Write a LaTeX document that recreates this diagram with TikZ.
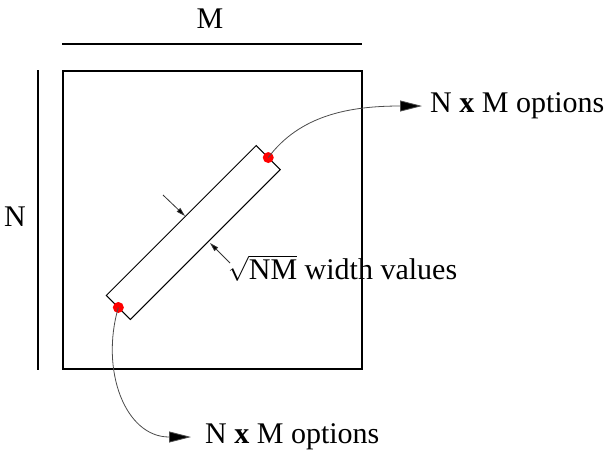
\documentclass[tikz,border=0pt]{standalone}
\usepackage{fontspec}
\newfontfamily\serfont{Liberation Serif}
\usetikzlibrary{arrows.meta}
\begin{document}
\begin{tikzpicture}[x=1pt,y=-1pt,
  lbl/.style={font=\serfont\fontsize{30}{34}\selectfont, inner sep=0pt},
  curvearrow/.style={draw=black!70, line width=0.8pt, -{Triangle[length=22pt,width=11pt,fill=black]}},
  smallarrow/.style={draw=black!80, line width=0.8pt, -{Triangle[length=9pt,width=5pt,fill=black]}},
  frame/.style={draw=black, line width=1.2pt},
  dot/.style={circle, fill=red, inner sep=0pt, minimum size=11pt}]
\useasboundingbox (0,0) rectangle (612,459);
% outer square
\node[frame, minimum width=299pt, minimum height=298pt, inner sep=0pt, outer sep=0pt] (sq) at (212.5,220) {};
% dimension lines
\coordinate (ma) at (62,44); \coordinate (mb) at (362,44);
\draw[line width=1.2pt] (ma) -- (mb);
\node[lbl] (M) at (210,19) {M};
\coordinate (na) at (38,70); \coordinate (nb) at (38,370);
\draw[line width=1.2pt] (na) -- (nb);
\node[lbl] (N) at (15,217) {N};
% diagonal strip
\node[draw=black, line width=1pt, rotate=45, minimum width=212pt, minimum height=34pt, inner sep=0pt, outer sep=0pt] (strip) at (193.3,232.5) {};
\node[dot] (d1) at (strip.east) {};
\node[dot] (d2) at (strip.west) {};
% labels
\node[lbl, anchor=west] (t1) at (430,106) {N \textbf{x} M options};
\node[lbl, anchor=west] (t2) at (205,437) {N \textbf{x} M options};
\node[lbl, anchor=west] (t3) at (228,268) {$\sqrt{\mbox{NM}}$ width values};
\coordinate (e1) at ([xshift=-8pt]t1.west);
\coordinate (e2) at ([xshift=-14pt]t2.west);
% curved arrows
\draw[curvearrow] (d1.center) .. controls (300,115) and (350,106) .. (e1);
\draw[curvearrow] (d2.center) .. controls (100,370) and (125,437) .. (e2);
% width arrows
\coordinate (w1s) at (163,195); \coordinate (w1e) at (185,216);
\coordinate (w2s) at (230,263); \coordinate (w2e) at (210,243);
\draw[smallarrow] (w1s) -- (w1e);
\draw[smallarrow] (w2s) -- (w2e);
\end{tikzpicture}
\end{document}
